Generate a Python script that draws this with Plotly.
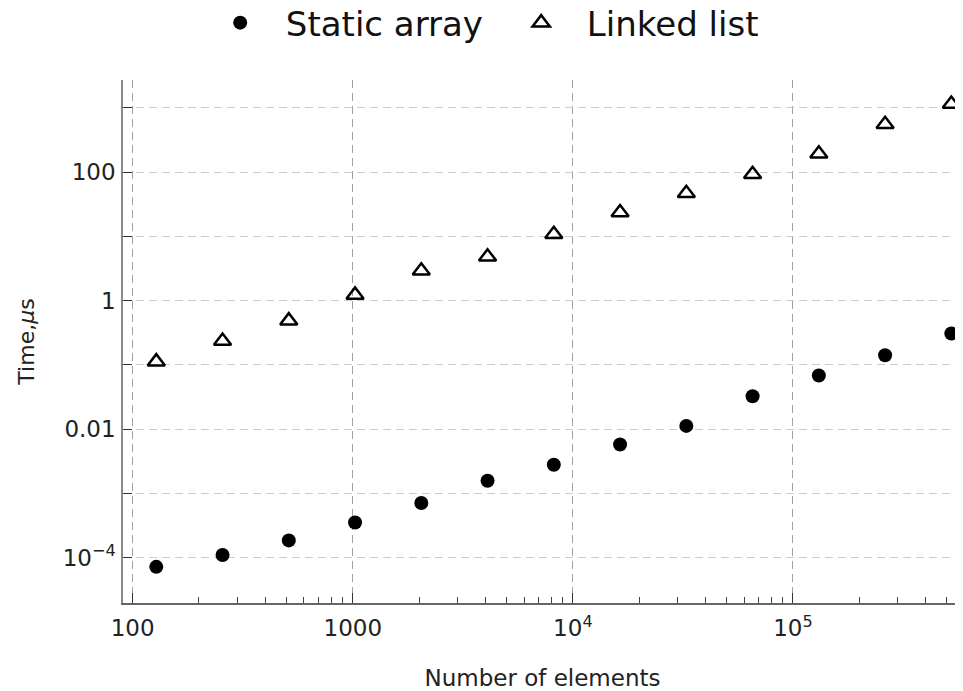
import plotly.graph_objects as go
import numpy as np

n_elements = [128, 256, 512, 1024, 2048, 4096, 8192, 16384, 32768, 65536, 131072, 262144, 524288]
static_array = [7.2e-5, 1.1e-4, 1.86e-4, 3.54e-4, 7.1e-4, 1.58e-3, 2.79e-3, 5.78e-3, 0.01125, 0.0326, 0.0684, 0.1416, 0.308]
linked_list = [0.1125, 0.236, 0.489, 1.23, 2.93, 4.83, 10.8, 23.5, 47.1, 93.0, 193.0, 557.0, 1153.0]

x_tickvals = [100, 1000, 1e4, 1e5]
x_ticktext = ["100", "1000", "10<sup>4</sup>", "10<sup>5</sup>"]
y_tickvals = [1e-4, 1e-3, 1e-2, 1e-1, 1, 10, 100, 1000]
y_ticktext = ["10<sup>\u22124</sup>", "", "0.01", "", "1", "", "100", ""]

FONT = "DejaVu Sans"

fig = go.Figure()
fig.add_trace(go.Scatter(
    x=n_elements, y=static_array, mode="markers", name="\u00a0\u00a0Static array",
    marker=dict(symbol="circle", size=14, color="black", line=dict(width=0)),
))
fig.add_trace(go.Scatter(
    x=n_elements, y=linked_list, mode="markers", name="\u00a0\u00a0Linked list",
    marker=dict(symbol="triangle-up-open", size=15, color="black", line=dict(width=2.5, color="black")),
))

# page body has an 8px margin, so the figure is sized to fill the rest of the window
fig.update_layout(
    width=955, height=683,
    margin=dict(l=115, r=1, t=72, b=88, autoexpand=False),
    paper_bgcolor="white", plot_bgcolor="white",
    font=dict(family=FONT, size=22, color="#222"),
    showlegend=True,
    legend=dict(orientation="h", x=0.218, xref="container", xanchor="left",
                y=0.978, yanchor="middle", yref="container",
                font=dict(size=34, color="#111"),
                itemwidth=38, entrywidth=248, entrywidthmode="pixels",
                bgcolor="rgba(0,0,0,0)"),
)

fig.update_xaxes(
    type="log", range=[1.956, 5.768], automargin=False,
    tickvals=x_tickvals, ticktext=x_ticktext,
    showgrid=True, gridcolor="#a0a0a0", griddash="8px,5px", gridwidth=1.3,
    showline=True, linecolor="#666", linewidth=1.5, mirror=False,
    ticks="inside", ticklen=10, tickwidth=1.3, tickcolor="#333",
    minor=dict(ticks="inside", ticklen=6, tickwidth=1, tickcolor="#444", dtick="D1", showgrid=False),
    tickfont=dict(size=23, color="#222"),
    ticklabelstandoff=4,
    title=dict(text="Number of elements", font=dict(size=23, color="#222"), standoff=31),
    zeroline=False,
)
fig.update_yaxes(
    type="log", range=[-4.705, 3.435], automargin=False,
    tickvals=y_tickvals, ticktext=y_ticktext,
    showgrid=True, gridcolor="#cccccc", griddash="8px,5px", gridwidth=1.3,
    showline=True, linecolor="#888", linewidth=1.5, mirror=False,
    ticks="inside", ticklen=9, tickwidth=1.3, tickcolor="#333",
    tickfont=dict(size=23, color="#222"),
    ticklabelstandoff=1,
    title=dict(text="Time,<i>\u03bc</i>s", font=dict(size=22, color="#222"), standoff=22),
    zeroline=False,
)

fig.write_html("out.html")
